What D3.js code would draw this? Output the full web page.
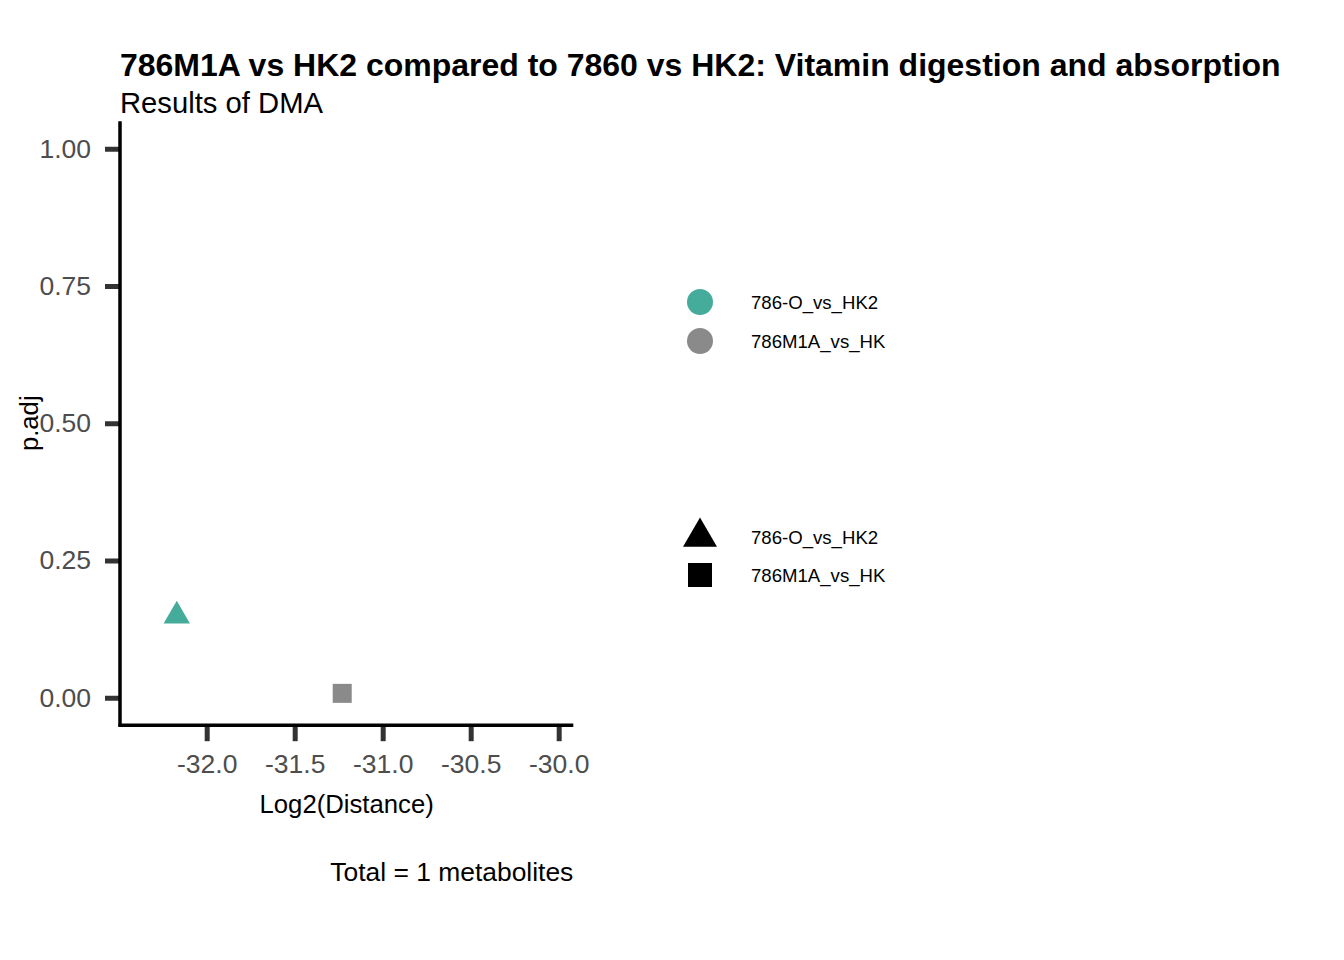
<!DOCTYPE html>
<html>
<head>
<meta charset="utf-8">
<script src="https://cdn.jsdelivr.net/npm/d3@7"></script>
<style>
  html, body { margin: 0; padding: 0; background: #fff; }
  svg { display: block; font-family: "Liberation Sans", Arial, sans-serif; }
</style>
</head>
<body>
<svg id="chart" width="1344" height="960"></svg>
<script>
// ---- data ----
const comparisons = ["786-O_vs_HK2", "786M1A_vs_HK"];
const log2Distance = [-32.17, -31.23];
const padj = [0.149, 0.008];
const colorLegendLabels = ["786-O_vs_HK2", "786M1A_vs_HK"];
const shapeLegendLabels = ["786-O_vs_HK2", "786M1A_vs_HK"];
const xTicks = [-32.0, -31.5, -31.0, -30.5, -30.0];
const yTicks = [0.00, 0.25, 0.50, 0.75, 1.00];
const xDomain = [-32.4926, -29.917];
const yDomain = [-0.05, 1.05];
const titleText = "786M1A vs HK2 compared to 7860 vs HK2: Vitamin digestion and absorption";
const subtitleText = "Results of DMA";
const xLabel = "Log2(Distance)";
const yLabel = "p.adj";
const captionText = "Total = 1 metabolites";

const colors = ["#45AB9B", "#8A8A8A"];
const shapes = [d3.symbolTriangle, d3.symbolSquare];

const svg = d3.select("#chart");
const panel = { left: 120, right: 573.3, top: 121.3, bottom: 725.2 };

const x = d3.scaleLinear().domain(xDomain).range([panel.left, panel.right]);
const y = d3.scaleLinear().domain(yDomain).range([panel.bottom, panel.top]);

function fitWidth(sel, target) {
  const w = sel.node().getComputedTextLength();
  const fs = parseFloat(sel.attr("font-size"));
  if (w > 0) sel.attr("font-size", fs * target / w);
}

// Title & subtitle
const title = svg.append("text").attr("x", 120).attr("y", 76)
  .attr("font-size", 29).attr("font-weight", "bold").attr("fill", "#000")
  .text(titleText);
fitWidth(title, 1161);
const sub = svg.append("text").attr("x", 120).attr("y", 112.5)
  .attr("font-size", 29).attr("fill", "#000")
  .text(subtitleText);
fitWidth(sub, 203);

const hyphen = d => String(d).replace("\u2212", "-");

// X axis
const xAxis = svg.append("g").attr("transform", `translate(0,${panel.bottom})`)
  .call(d3.axisBottom(x).tickValues(xTicks).tickFormat(d => hyphen(d3.format(".1f")(d))).tickSize(16).tickPadding(12.5));
xAxis.select(".domain").remove();
xAxis.selectAll(".tick line").attr("stroke", "#333").attr("stroke-width", 5);
xAxis.selectAll(".tick text").attr("fill", "#4D4D4D").attr("font-size", 26.5)
  .attr("font-family", "Liberation Sans, Arial, sans-serif");

// Y axis
const yAxis = svg.append("g").attr("transform", `translate(${panel.left},0)`)
  .call(d3.axisLeft(y).tickValues(yTicks).tickFormat(d3.format(".2f")).tickSize(15).tickPadding(14));
yAxis.select(".domain").remove();
yAxis.selectAll(".tick line").attr("stroke", "#333").attr("stroke-width", 5);
yAxis.selectAll(".tick text").attr("fill", "#4D4D4D").attr("font-size", 26.5)
  .attr("font-family", "Liberation Sans, Arial, sans-serif");

// axis lines
svg.append("line").attr("x1", panel.left).attr("x2", panel.left)
  .attr("y1", panel.top).attr("y2", panel.bottom + 1.5)
  .attr("stroke", "#000").attr("stroke-width", 3.5);
svg.append("line").attr("x1", panel.left - 1.5).attr("x2", panel.right)
  .attr("y1", panel.bottom).attr("y2", panel.bottom)
  .attr("stroke", "#000").attr("stroke-width", 3.5);

// Points
svg.append("g").selectAll("path").data(comparisons).join("path")
  .attr("transform", (d, i) => `translate(${x(log2Distance[i])},${y(padj[i])})`)
  .attr("d", (d, i) => d3.symbol().type(shapes[i]).size(i === 0 ? 300 : 361)())
  .attr("fill", (d, i) => colors[i]);

// Axis titles
svg.append("text").attr("x", (panel.left + panel.right) / 2).attr("y", 813)
  .attr("text-anchor", "middle").attr("font-size", 25.7).attr("fill", "#000")
  .text(xLabel);
svg.append("text").attr("transform", `translate(38,${(panel.top + panel.bottom) / 2}) rotate(-90)`)
  .attr("text-anchor", "middle").attr("font-size", 25.7).attr("fill", "#000")
  .text(yLabel);

// Caption
const cap = svg.append("text").attr("x", panel.right).attr("y", 881)
  .attr("text-anchor", "end").attr("font-size", 26).attr("fill", "#000")
  .text(captionText);
fitWidth(cap, 243);

// Legends
const legColor = svg.append("g");
const colorRows = [302, 341];
colorLegendLabels.forEach((lab, i) => {
  legColor.append("circle").attr("cx", 700).attr("cy", colorRows[i]).attr("r", 13)
    .attr("fill", colors[i]);
  legColor.append("text").attr("x", 751).attr("y", colorRows[i] + 6.7)
    .attr("font-size", 18.6).attr("fill", "#000").text(lab);
});
const legShape = svg.append("g");
const shapeRows = [537, 575];
shapeLegendLabels.forEach((lab, i) => {
  legShape.append("path")
    .attr("transform", `translate(700,${shapeRows[i]})`)
    .attr("d", d3.symbol().type(shapes[i]).size(i === 0 ? 500 : 576)())
    .attr("fill", "#000");
  legShape.append("text").attr("x", 751).attr("y", shapeRows[i] + 6.7)
    .attr("font-size", 18.6).attr("fill", "#000").text(lab);
});
</script>
</body>
</html>
